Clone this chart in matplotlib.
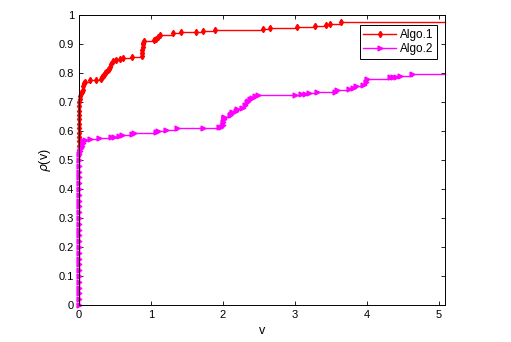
import matplotlib
matplotlib.use("Agg")
import matplotlib.pyplot as plt

plt.rcParams['font.family'] = ['Liberation Sans', 'DejaVu Sans']

x_max = 5.08

algo1_v = [0, 0, 0, 0, 0, 0, 0, 0, 0, 0, 0, 0, 0, 0,
           0.01, 0.02, 0.03, 0.04, 0.05, 0.06, 0.07, 0.08,
           0.15, 0.24, 0.31, 0.32, 0.33, 0.35, 0.36, 0.38, 0.40, 0.42, 0.43, 0.45,
           0.47, 0.52, 0.57, 0.61, 0.73, 0.87, 0.875, 0.88, 0.885, 0.89, 0.895,
           0.90, 1.04, 1.07, 1.10, 1.12, 1.30, 1.41, 1.62, 1.72, 1.89, 2.56,
           2.65, 3.03, 3.28, 3.43, 3.49, 3.64]
algo1_rho = [0, 0.52, 0.535, 0.55, 0.565, 0.58, 0.595, 0.61, 0.625, 0.64, 0.655,
             0.67, 0.685, 0.70, 0.71, 0.72, 0.73, 0.735, 0.74, 0.755, 0.765,
             0.77, 0.775, 0.775, 0.78, 0.785, 0.79, 0.795, 0.80, 0.805, 0.81,
             0.815, 0.82, 0.83, 0.84, 0.845, 0.85, 0.852, 0.855, 0.86, 0.87,
             0.88, 0.89, 0.90, 0.905, 0.91, 0.913, 0.918, 0.925, 0.93, 0.937,
             0.94, 0.943, 0.945, 0.948, 0.952, 0.955, 0.96, 0.963, 0.967, 0.97,
             0.975]

algo2_v = [0, 0, 0, 0, 0, 0, 0, 0, 0, 0, 0, 0, 0, 0, 0, 0, 0, 0, 0, 0, 0,
           0, 0, 0, 0, 0, 0, 0.02, 0.03, 0.04, 0.05, 0.06, 0.08, 0.15,
           0.28, 0.45, 0.48, 0.55, 0.60, 0.74, 0.77, 1.07, 1.10, 1.21, 1.36,
           1.72, 1.95, 1.97, 2.00, 2.005, 2.01, 2.015, 2.02, 2.09, 2.11, 2.13,
           2.18, 2.20, 2.27, 2.30, 2.33, 2.35, 2.37, 2.40, 2.45, 2.49, 3.00,
           3.08, 3.14, 3.20, 3.30, 3.55, 3.58, 3.75, 3.80, 3.85, 3.95, 3.98,
           4.00, 4.32, 4.36, 4.40, 4.46, 4.62]
algo2_rho = [0, 0.02, 0.04, 0.06, 0.08, 0.10, 0.12, 0.14, 0.16, 0.18, 0.20,
             0.22, 0.24, 0.26, 0.28, 0.30, 0.32, 0.34, 0.36, 0.38, 0.40, 0.42,
             0.44, 0.46, 0.48, 0.50, 0.52, 0.53, 0.54, 0.55, 0.56, 0.565, 0.57,
             0.572, 0.575, 0.578, 0.58, 0.583, 0.587, 0.59, 0.592, 0.597, 0.60,
             0.605, 0.61, 0.612, 0.613, 0.615, 0.62, 0.63, 0.64, 0.645, 0.65,
             0.655, 0.66, 0.665, 0.67, 0.675, 0.68, 0.69, 0.70, 0.705, 0.71,
             0.715, 0.72, 0.724, 0.726, 0.728, 0.729, 0.73, 0.733, 0.736, 0.74,
             0.745, 0.75, 0.755, 0.76, 0.77, 0.78, 0.785, 0.786, 0.787, 0.79,
             0.797]

x_ticks = [0, 1, 2, 3, 4, 5]
y_ticks = [0, 0.1, 0.2, 0.3, 0.4, 0.5, 0.6, 0.7, 0.8, 0.9, 1]

fig = plt.figure(figsize=(5.11, 3.42), dpi=100)
ax = fig.add_axes([0.1546, 0.108, 0.716, 0.848])

n1 = len(algo1_v)
ax.plot(algo1_v + [x_max], algo1_rho + [algo1_rho[-1]], color='red',
        drawstyle='steps-post', lw=1.0, marker='d', ms=3.2,
        markevery=list(range(1, n1)), label='Algo.1', clip_on=False)
n2 = len(algo2_v)
ax.plot(algo2_v + [x_max], algo2_rho + [algo2_rho[-1]], color='magenta',
        drawstyle='steps-post', lw=1.0, marker='>', ms=3.5,
        markevery=list(range(0, n2)), label='Algo.2', clip_on=False)

ax.set_xlim(0, x_max)
ax.set_ylim(0, 1)
ax.set_xticks(x_ticks)
ax.set_xticklabels([str(t) for t in x_ticks])
ax.set_yticks(y_ticks)
ax.set_yticklabels(['0', '0.1', '0.2', '0.3', '0.4', '0.5', '0.6', '0.7', '0.8', '0.9', '1'])
ax.tick_params(direction='in', top=True, right=True, labelsize=8, length=3, width=0.6)
for s in ax.spines.values():
    s.set_linewidth(0.7)
ax.set_xlabel('v', fontsize=9)
ax.set_ylabel(r'$\rho$(v)', fontsize=9)

leg = ax.legend(loc='upper right', bbox_to_anchor=(0.978, 0.965), fontsize=8.5,
                fancybox=False, edgecolor='black', framealpha=1, borderaxespad=0,
                handlelength=2.8, borderpad=0.3, labelspacing=0.2, handletextpad=0.3)
leg.get_frame().set_linewidth(0.7)

fig.savefig('out.png', dpi=100)
